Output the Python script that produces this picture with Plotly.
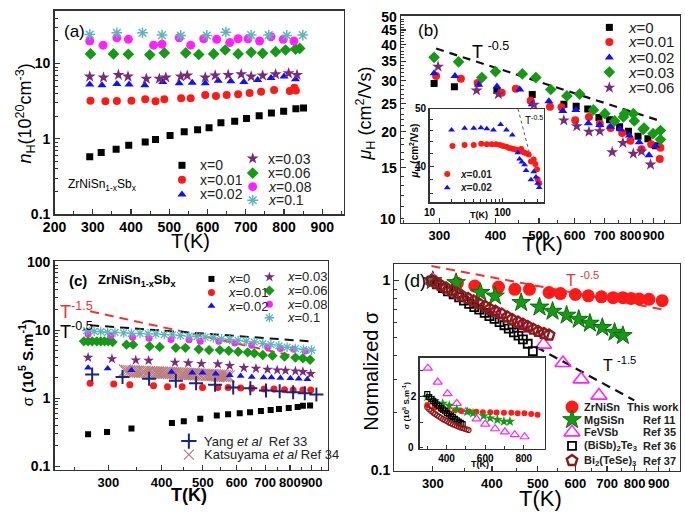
import math
import plotly.graph_objects as go

W, H = 685, 520
FONT = "Liberation Sans"

# ---------------- panel (a): carrier concentration (1e20 cm^-3) ----------------
a_T_x0 = [292, 322, 361, 394, 437, 464, 502, 539, 574, 604, 635, 671, 702, 735, 767, 799, 831, 851]
a_n_x0 = [0.58, 0.66, 0.73, 0.82, 0.91, 0.98, 1.11, 1.24, 1.32, 1.40, 1.64, 1.72, 1.86, 2.02, 2.20, 2.32, 2.51, 2.57]
a_T_x001 = [294, 333, 363, 401, 437, 464, 487, 531, 556, 594, 622, 650, 680, 710, 740, 774, 815, 827, 831]
a_n_x001 = [3.21, 3.15, 3.18, 3.21, 3.37, 3.15, 3.37, 3.47, 3.47, 3.83, 3.72, 3.83, 3.91, 4.07, 4.23, 4.45, 4.32, 4.77, 4.40]
a_T_x002 = [292, 324, 363, 395, 436, 483, 526, 560, 594, 628, 661, 695, 731, 766, 800, 830]
a_n_x002 = [5.26, 5.16, 5.37, 5.26, 5.16, 5.69, 5.47, 5.58, 5.47, 5.92, 5.81, 5.69, 6.04, 6.41, 6.73, 6.17]
a_T_x003 = [292, 328, 367, 392, 440, 474, 491, 530, 547, 594, 620, 654, 688, 714, 744, 778, 812, 834]
a_n_x003 = [6.73, 6.54, 7.07, 6.73, 6.29, 6.29, 6.54, 6.73, 6.94, 6.54, 6.94, 7.07, 7.22, 6.73, 6.94, 7.22, 7.43, 7.07]
a_T_x006 = [294, 354, 393, 449, 487, 543, 577, 616, 646, 680, 714, 744, 778, 804, 830, 841]
a_n_x006 = [13.45, 13.45, 13.3, 13.06, 13.86, 13.86, 13.2, 13.45, 15.14, 13.45, 14.1, 13.7, 14.4, 15.14, 15.6, 15.9]
a_T_x008 = [292, 327, 363, 393, 459, 481, 526, 556, 590, 624, 658, 680, 706, 736, 766, 798, 826]
a_n_x008 = [19.97, 17.57, 22.04, 20.98, 17.57, 18.1, 22.04, 17.57, 21.4, 20.98, 19.0, 21.4, 21.4, 19.97, 22.7, 20.98, 19.97]
a_T_x01 = [292, 363, 430, 481, 530, 598, 648, 714, 760, 807, 849]
a_n_x01 = [24.3, 25.6, 25.6, 23.9, 23.6, 23.6, 26.1, 23.9, 23.9, 23.6, 23.9]

# ---------------- panel (b): Hall mobility (cm^2/Vs) ----------------
b_T_x0 = [292, 324, 403, 483, 568, 605, 642, 680, 718, 756, 791, 831, 874, 909]
b_mu_x0 = [29.4, 28.6, 27.8, 26.9, 24.9, 24.5, 24.0, 22.4, 22.0, 20.8, 20.1, 19.3, 18.9, 17.9]
b_T_x001 = [295, 335, 365, 413, 444, 479, 529, 561, 602, 646, 683, 722, 766, 799, 846, 889, 929, 932]
b_mu_x001 = [31.2, 30.5, 29.5, 27.3, 28.2, 25.6, 24.4, 24.3, 21.9, 22.5, 21.3, 20.6, 19.8, 18.6, 17.4, 18.1, 16.1, 17.6]
b_T_x002 = [292, 325, 367, 403, 453, 483, 526, 565, 604, 644, 683, 721, 758, 795, 836, 879, 909]
b_mu_x002 = [31.9, 31.2, 29.1, 28.7, 28.0, 24.9, 25.5, 23.6, 23.8, 21.4, 21.1, 20.8, 20.4, 19.4, 18.4, 16.6, 17.9]
b_T_x003 = [292, 331, 373, 400, 459, 492, 531, 577, 616, 661, 701, 737, 771, 775, 811, 815, 853, 857, 897, 932, 932]
b_mu_x003 = [36.2, 34.9, 30.8, 32.3, 31.7, 30.8, 28.0, 26.6, 27.0, 23.8, 23.1, 21.8, 22.5, 23.1, 23.1, 21.8, 20.4, 20.6, 19.7, 20.2, 18.8]
b_T_x006 = [298, 363, 406, 487, 568, 607, 646, 683, 728, 769, 811, 846, 886]
b_mu_x006 = [33.6, 27.8, 27.0, 24.8, 21.9, 20.9, 20.0, 20.1, 17.0, 18.3, 16.8, 17.1, 15.4]
b_guide_T = [295, 940]
b_guide_mu = [38.8, 21.7]

# inset (b): low temperature mobility
bi_T_x001 = [20.6, 30.2, 40.3, 51.1, 60.9, 71.1, 81.3, 92, 102, 113, 123, 132, 142, 154, 167, 180, 194, 210, 228, 245, 267, 281, 296, 302, 318]
bi_mu_x001 = [43.3, 43.5, 43.5, 43.7, 43.6, 43.6, 43.6, 43.5, 43.3, 43.2, 43.0, 42.9, 42.8, 42.7, 42.6, 42.8, 42.3, 42.1, 41.9, 40.8, 41.1, 40.4, 39.6, 38.1, 37.5]
bi_T_x002 = [20.0, 30.2, 40.3, 50.6, 60.9, 74.9, 94.0, 113, 136, 162, 171, 184, 200, 210, 245, 267, 287, 302, 318]
bi_mu_x002 = [46.1, 46.4, 46.4, 46.5, 46.3, 46.1, 47.1, 46.1, 45.2, 42.2, 41.2, 40.7, 40.3, 39.4, 38.0, 39.2, 38.4, 37.5, 36.9]
bi_guide_T = [163, 236]
bi_guide_mu = [50.0, 41.9]

# ---------------- panel (c): conductivity (1e5 S/m) ----------------
c_T_x0 = [269, 298, 340, 423, 451, 493, 539, 573, 610, 645, 684, 721, 754, 795, 834, 858, 892]
c_s_x0 = [0.296, 0.32, 0.36, 0.434, 0.459, 0.50, 0.56, 0.585, 0.604, 0.624, 0.652, 0.674, 0.697, 0.72, 0.744, 0.777, 0.785]
c_T_x001 = [272, 309, 337, 383, 413, 447, 499, 542, 573, 613, 651, 696, 734, 777, 814, 858, 895]
c_s_x001 = [1.67, 1.62, 1.58, 1.53, 1.48, 1.48, 1.45, 1.45, 1.45, 1.42, 1.41, 1.37, 1.37, 1.34, 1.33, 1.33, 1.33]
c_T_x002 = [269, 299, 340, 422, 472, 499, 536, 578, 613, 651, 694, 724, 760, 802, 839, 879]
c_s_x002 = [2.81, 2.74, 2.60, 2.45, 2.38, 2.38, 2.30, 2.18, 2.13, 2.06, 2.02, 2.02, 2.0, 1.97, 1.95, 1.91]
c_T_x003 = [269, 306, 348, 373, 430, 462, 496, 542, 578, 624, 666, 709, 747, 781, 824, 858, 895]
c_s_x003 = [3.98, 3.81, 3.65, 3.60, 3.38, 3.31, 3.24, 3.20, 3.03, 2.81, 2.74, 2.65, 2.60, 2.57, 2.51, 2.46, 2.30]
c_T_x006 = [263, 269, 275, 282, 288, 294, 300, 307, 331, 343, 375, 396, 432, 455, 489, 517, 548, 575, 605, 637, 660, 691, 728, 777, 824, 858, 892]
c_s_x006 = [6.89, 6.89, 6.89, 6.89, 6.89, 6.89, 6.89, 6.74, 6.17, 6.17, 5.84, 5.71, 5.53, 5.53, 5.29, 5.13, 5.13, 5.01, 4.85, 4.75, 4.59, 4.35, 4.25, 4.11, 3.98, 3.90, 3.69]
c_T_x008 = [269, 304, 342, 374, 421, 464, 493, 545, 594, 651, 709, 760, 816, 869]
c_s_x008 = [8.87, 8.40, 7.94, 7.69, 7.36, 7.28, 6.89, 6.89, 6.52, 6.04, 5.71, 5.41, 5.29, 4.96]
c_T_x01 = [267, 278, 288, 299, 311, 326, 340, 356, 372, 388, 406, 424, 443, 464, 484, 506, 529, 553, 578, 605, 632, 660, 691, 722, 754, 788, 824, 861, 899]
c_s_x01 = [9.89, 9.68, 9.57, 9.36, 9.36, 9.16, 9.06, 9.06, 8.87, 8.87, 8.67, 8.58, 8.40, 8.21, 8.12, 7.94, 7.77, 7.51, 7.36, 7.11, 6.89, 6.74, 6.38, 6.17, 5.91, 5.65, 5.41, 5.23, 5.13]
c_T_yang = [275, 324, 374, 432, 482, 534, 589, 646, 703, 757, 814, 867, 923]
c_s_yang = [2.25, 2.06, 1.95, 1.81, 1.67, 1.58, 1.45, 1.41, 1.30, 1.27, 1.23, 1.19, 1.14]
c_T_kat = [328, 332, 336, 340, 344, 348, 352, 356, 361, 365, 370, 374, 379, 383, 388, 392, 397, 401, 406, 411, 416, 421, 426, 431, 436, 441, 446, 451, 456, 461, 466, 471, 477, 482, 488, 493, 499, 504, 510, 515, 521, 527, 533, 539, 545, 551, 557, 563, 569, 575]
c_s_kat = [2.57, 2.53, 2.52, 2.50, 2.49, 2.47, 2.47, 2.46, 2.45, 2.45, 2.44, 2.43, 2.42, 2.42, 2.41, 2.40, 2.39, 2.39, 2.38, 2.37, 2.36, 2.36, 2.35, 2.34, 2.33, 2.33, 2.32, 2.31, 2.30, 2.29, 2.28, 2.28, 2.27, 2.26, 2.25, 2.24, 2.23, 2.23, 2.22, 2.21, 2.20, 2.19, 2.18, 2.17, 2.16, 2.15, 2.14, 2.13, 2.12, 2.10]
c_g15_T = [272, 889]
c_g15_s = [19.1, 3.73]
c_g05_T = [272, 889]
c_g05_s = [11.9, 6.9]

# ---------------- panel (d): normalized conductivity ----------------
d_T_zr = [300, 338, 368, 413, 447, 480, 528, 558, 600, 639, 681, 721, 756, 787, 818, 858, 915]
d_n_zr = [1.0, 0.969, 0.935, 0.924, 0.899, 0.899, 0.865, 0.854, 0.844, 0.831, 0.821, 0.812, 0.812, 0.805, 0.799, 0.796, 0.783]
d_T_mg = [300, 336, 378, 406, 461, 504, 537, 575, 610, 644, 684, 726, 756]
d_n_mg = [1.0, 0.975, 0.865, 0.828, 0.765, 0.724, 0.688, 0.656, 0.624, 0.595, 0.565, 0.533, 0.512]
d_T_fe = [300, 406, 461, 514, 565, 617, 673]
d_n_fe = [1.0, 0.675, 0.558, 0.459, 0.367, 0.301, 0.247]
d_T_bst = [298, 306, 315, 323, 332, 341, 349, 358, 367, 376, 386, 395, 405, 415, 425, 434, 445, 455, 465, 476, 488]
d_n_bst = [1.0, 0.954, 0.913, 0.878, 0.847, 0.815, 0.783, 0.753, 0.724, 0.702, 0.675, 0.649, 0.628, 0.604, 0.581, 0.558, 0.533, 0.512, 0.489, 0.464, 0.424]
d_T_bts = [298, 305, 312, 320, 329, 338, 346, 356, 366, 376, 387, 396, 407, 419, 431, 441, 454, 465, 476, 489, 501, 515, 528]
d_n_bts = [1.0, 0.969, 0.943, 0.913, 0.882, 0.854, 0.828, 0.805, 0.78, 0.753, 0.730, 0.707, 0.688, 0.667, 0.643, 0.624, 0.604, 0.588, 0.572, 0.554, 0.539, 0.526, 0.516]
d_g05_T = [298, 922]
d_g05_n = [1.194, 0.702]
d_g15_T = [496, 799]
d_g15_n = [0.446, 0.233]

# inset (d): conductivity (1e5 S/m)
di_T_zr = [300, 338, 370, 405, 443, 476, 517, 554, 588, 626, 659, 697, 735, 768, 803, 838, 871]
di_s_zr = [1.66, 1.56, 1.50, 1.47, 1.45, 1.43, 1.41, 1.40, 1.38, 1.38, 1.37, 1.36, 1.36, 1.34, 1.34, 1.31, 1.28]
di_T_mg = [300, 338, 380, 414, 453, 507, 537, 592, 626, 663, 697, 728]
di_s_mg = [1.98, 1.82, 1.72, 1.64, 1.50, 1.40, 1.34, 1.24, 1.15, 1.09, 1.02, 1.02]
di_T_fe = [303, 354, 405, 453, 500, 555, 600, 651, 702, 753, 804]
di_s_fe = [3.09, 2.55, 2.10, 1.72, 1.40, 1.12, 0.92, 0.74, 0.62, 0.51, 0.43]
di_T_bst = [300, 310, 321, 331, 341, 351, 361, 371, 382, 392, 402, 412, 422, 432, 443, 453, 463, 473, 483]
di_s_bst = [2.08, 1.97, 1.89, 1.81, 1.75, 1.68, 1.62, 1.54, 1.48, 1.42, 1.35, 1.30, 1.24, 1.19, 1.12, 1.07, 1.02, 0.97, 0.92]
di_T_bts = [300, 310, 321, 331, 341, 351, 361, 371, 382, 392, 402, 412, 422, 432, 443, 453, 463, 473, 483, 493, 504, 514]
di_s_bts = [1.57, 1.49, 1.43, 1.36, 1.31, 1.26, 1.21, 1.16, 1.11, 1.07, 1.04, 0.98, 0.95, 0.91, 0.88, 0.85, 0.82, 0.79, 0.77, 0.74, 0.72, 0.69]

T_ticks = [300, 400, 500, 600, 700, 800, 900]

# ---------------- colours ----------------
BLACK = "#000000"
RED = "#ff1a1a"
BLUE = "#1010ff"
PURPLE = "#7a2a7a"
GREEN = "#169a16"
MAGENTA = "#ff22ff"
CYAN = "#5fb4bc"
NAVY = "#1a2580"
ROSY = "#b87a7a"
BROWN = "#8b1a1a"
AXC = "#333333"

fig = go.Figure()


def px2x(p):
    return p / W


def py2y(p):
    return 1 - p / H


def dom_x(l, r):
    return [px2x(l), px2x(r)]


def dom_y(top, bottom):
    return [py2y(bottom), py2y(top)]


def add(ax, xs, ys, symbol, color, size, lw=0.0, lc=None, mode="markers", dash=None, lwidth=2):
    n = "" if ax == 1 else str(ax)
    if mode == "lines":
        fig.add_trace(go.Scatter(x=xs, y=ys, mode="lines", xaxis="x" + n, yaxis="y" + n,
                                 line=dict(color=color, width=lwidth, dash=dash), showlegend=False,
                                 hoverinfo="skip"))
    else:
        fig.add_trace(go.Scatter(x=xs, y=ys, mode="markers", xaxis="x" + n, yaxis="y" + n,
                                 marker=dict(symbol=symbol, color=color, size=size,
                                             line=dict(width=lw, color=lc if lc else color)),
                                 showlegend=False, hoverinfo="skip"))


# panel (a)
add(1, a_T_x0, a_n_x0, "square", BLACK, 7)
add(1, a_T_x001, a_n_x001, "circle", RED, 8)
add(1, a_T_x002, a_n_x002, "triangle-up", BLUE, 8)
add(1, a_T_x003, a_n_x003, "star", PURPLE, 9)
add(1, a_T_x006, a_n_x006, "diamond", GREEN, 9)
add(1, a_T_x008, a_n_x008, "circle", MAGENTA, 9)
add(1, a_T_x01, a_n_x01, "asterisk-open", CYAN, 9, lw=1.5)

# panel (b)
add(2, b_guide_T, b_guide_mu, None, "#111111", 0, mode="lines", dash="8px,6px", lwidth=2.2)
add(2, b_T_x0, b_mu_x0, "square", BLACK, 7)
add(2, b_T_x001, b_mu_x001, "circle", RED, 8)
add(2, b_T_x002, b_mu_x002, "triangle-up", BLUE, 8)
add(2, b_T_x003, b_mu_x003, "diamond", GREEN, 9)
add(2, b_T_x006, b_mu_x006, "star", PURPLE, 9)

# inset (b)
add(5, bi_guide_T, bi_guide_mu, None, "#555555", 0, mode="lines", dash="3px,3px", lwidth=1)
add(5, bi_T_x001, bi_mu_x001, "circle", RED, 6)
add(5, bi_T_x002, bi_mu_x002, "triangle-up", BLUE, 6)

# panel (c)
add(3, c_g15_T, c_g15_s, None, "#ee3333", 0, mode="lines", dash="9px,6px", lwidth=2)
add(3, c_g05_T, c_g05_s, None, "#111111", 0, mode="lines", dash="9px,6px", lwidth=2)
add(3, c_T_kat, c_s_kat, "x-thin-open", ROSY, 12, lw=1.1)
add(3, c_T_x0, c_s_x0, "square", BLACK, 6)
add(3, c_T_x001, c_s_x001, "circle", RED, 7)
add(3, c_T_x002, c_s_x002, "triangle-up", BLUE, 7)
add(3, c_T_x003, c_s_x003, "star", PURPLE, 8)
add(3, c_T_x006, c_s_x006, "diamond", GREEN, 8)
add(3, c_T_x008, c_s_x008, "circle", MAGENTA, 7)
add(3, c_T_x01, c_s_x01, "asterisk-open", CYAN, 8, lw=1.3)
add(3, c_T_yang, c_s_yang, "cross-thin-open", NAVY, 10, lw=2)

# panel (d)
add(4, d_g05_T, d_g05_n, None, "#ee3333", 0, mode="lines", dash="9px,6px", lwidth=2)
add(4, d_g15_T, d_g15_n, None, "#111111", 0, mode="lines", dash="9px,6px", lwidth=2.2)
add(4, d_T_zr, d_n_zr, "circle", RED, 13)
add(4, d_T_mg, d_n_mg, "star", GREEN, 14, lw=1, lc="#0d6a0d")
add(4, d_T_fe, d_n_fe, "triangle-up-open", MAGENTA, 14, lw=1.6)
add(4, d_T_bst, d_n_bst, "square-open", BLACK, 8, lw=1.8)
add(4, d_T_bts, d_n_bts, "pentagon-open", BROWN, 11, lw=2.4)

# inset (d)
add(6, di_T_fe, di_s_fe, "triangle-up-open", MAGENTA, 8, lw=1.2)
add(6, di_T_zr, di_s_zr, "circle", RED, 6)
add(6, di_T_mg, di_s_mg, "star", GREEN, 8)
add(6, di_T_bst, di_s_bst, "square-open", BLACK, 5, lw=1.2)
add(6, di_T_bts, di_s_bts, "circle-open", BROWN, 5, lw=1.2)

# ---------------- legends (drawn on a full-figure overlay axis) ----------------
ann_list = []


def legend_item(mx, my, symbol, color, size, text, tx, tsize, lw=0.0, bold=False, tcolor="#222222", lc=None):
    fig.add_trace(go.Scatter(x=[mx], y=[my], mode="markers", xaxis="x7", yaxis="y7",
                             marker=dict(symbol=symbol, color=color, size=size,
                                         line=dict(width=lw, color=lc if lc else color)),
                             showlegend=False, hoverinfo="skip", cliponaxis=False))
    ann_list.append(dict(text=text, x=px2x(tx), y=py2y(my), xanchor="left", yanchor="middle",
                         font=dict(family=FONT, size=tsize, color=tcolor,
                                   weight="bold" if bold else "normal")))


# (a)
legend_item(173, 163, "square", BLACK, 7, "x=0", 189, 14)
legend_item(173, 178, "circle", RED, 8, "x=0.01", 189, 14)
legend_item(173, 193, "triangle-up", BLUE, 8, "x=0.02", 189, 14)
legend_item(245, 156, "star", PURPLE, 9, "x=0.03", 259, 14)
legend_item(245, 171, "diamond", GREEN, 9, "x=0.06", 259, 14)
legend_item(245, 185, "circle", MAGENTA, 9, "<i>x</i>=0.08", 259, 14)
legend_item(245, 199, "asterisk-open", CYAN, 9, "<i>x</i>=0.1", 259, 14, lw=1.5)
# (b)
legend_item(608, 21, "square", BLACK, 7, "<i>x</i>=0", 625, 15)
legend_item(608, 36, "circle", RED, 8, "<i>x</i>=0.01", 625, 15)
legend_item(608, 52, "triangle-up", BLUE, 8, "<i>x</i>=0.02", 625, 15)
legend_item(608, 67, "diamond", GREEN, 9, "<i>x</i>=0.03", 625, 15)
legend_item(608, 83, "star", PURPLE, 9, "<i>x</i>=0.06", 625, 15)
# inset (b)
legend_item(443, 172, "circle", RED, 6, "<i>x</i>=0.01", 454, 10, bold=True)
legend_item(443, 186, "triangle-up", BLUE, 6, "<i>x</i>=0.02", 454, 10, bold=True)
# (c)
legend_item(203, 280, "square", BLACK, 6, "<i>x</i>=0", 218, 13)
legend_item(203, 294, "circle", RED, 7, "<i>x</i>=0.01", 218, 13)
legend_item(203, 308, "triangle-up", BLUE, 7, "<i>x</i>=0.02", 218, 13)
legend_item(262, 278, "star", PURPLE, 8, "<i>x</i>=0.03", 278, 13)
legend_item(262, 292, "diamond", GREEN, 8, "<i>x</i>=0.06", 278, 13)
legend_item(262, 306, "circle", MAGENTA, 7, "<i>x</i>=0.08", 278, 13)
legend_item(262, 320, "asterisk-open", CYAN, 8, "<i>x</i>=0.1", 278, 13, lw=1.3)
legend_item(180, 447, "cross-thin-open", NAVY, 11, "Yang <i>et al</i>  Ref 33", 193, 13, lw=2)
legend_item(180, 461, "x-thin-open", ROSY, 10, "Katsuyama <i>et al</i> Ref 34", 193, 13, lw=1.2)
# (d)
legend_item(570, 412, "circle", RED, 13, "ZrNiSn", 580, 11, bold=True)
legend_item(570, 425, "star", GREEN, 14, "MgSiSn", 580, 11, bold=True, lw=1, lc="#0d6a0d")
legend_item(570, 438, "triangle-up-open", MAGENTA, 14, "FeVSb", 580, 11, bold=True, lw=1.6)
legend_item(570, 452, "square-open", BLACK, 8, "(BiSb)<sub>2</sub>Te<sub>3</sub>", 580, 11, bold=True, lw=1.8)
legend_item(570, 467, "pentagon-open", BROWN, 11, "Bi<sub>2</sub>(TeSe)<sub>3</sub>", 580, 11, bold=True, lw=2.4)
for txt, yy, xx in [("This work", 412, 624), ("Ref 11", 425, 640), ("Ref 35", 438, 640),
                    ("Ref 36", 452, 640), ("Ref 37", 467, 640)]:
    ann_list.append(dict(text=txt, x=px2x(xx), y=py2y(yy), xanchor="left", yanchor="middle",
                         font=dict(family=FONT, size=11, color="#222222", weight="bold")))


def text(t, x, y, size, color="black", xanchor="left", angle=0, bold=False):
    ann_list.append(dict(text=t, x=px2x(x), y=py2y(y), xanchor=xanchor, yanchor="middle",
                         textangle=angle,
                         font=dict(family=FONT, size=size, color=color,
                                   weight="bold" if bold else "normal")))


# panel labels and titles
text("(a)", 51, 25, 17)
text("ZrNiSn<sub>1-x</sub>Sb<sub>x</sub>", 55, 183, 12)
text("<i>n</i><sub>H</sub>(10<sup>20</sup>cm<sup>-3</sup>)", 14, 110, 18, xanchor="center", angle=-90)
text("T(K)", 182, 241, 20, xanchor="center")

text("(b)", 411, 24, 17)
text("T <sup>-0.5</sup>", 466, 45, 18)
text("<i>μ</i><sub>H</sub> (cm<sup>2</sup>/Vs)", 360, 110, 18, xanchor="center", angle=-90)
text("T(K)", 540, 244, 21, xanchor="center")
text("T<sup>-0.5</sup>", 520, 116, 10)
text("<i>μ</i><sub>H</sub> (cm<sup>2</sup>/Vs)", 410, 148, 10, xanchor="center", angle=-90, bold=True)
text("T(K)", 475, 214, 9, xanchor="center", bold=True)
# lowest tick labels, which plotly drops at these axis ends
text("10", 393, 218, 14, xanchor="right", bold=True)
text("0", 411, 454, 10, xanchor="right", bold=True)

text("(c)", 56, 282, 15, bold=True)
text("ZrNiSn<sub>1-x</sub>Sb<sub>x</sub>", 86, 282, 13, bold=True)
text("T<sup>-1.5</sup>", 47, 313, 18, color="#ee3333")
text("T<sup>-0.5</sup>", 47, 333, 18)
text("σ <b>(10<sup>5</sup> S.m<sup>-1</sup>)</b>", 14, 366, 15, xanchor="center", angle=-90)
text("T(K)", 180, 502, 18, xanchor="center", bold=True)

text("(d)", 397, 282, 18)
text("T <sup>-0.5</sup>", 562, 280, 16, color="#ee3333")
text("T <sup>-1.5</sup>", 600, 368, 16)
text("Normalized σ", 366, 375, 20, xanchor="center", angle=-90)
text("T(K)", 538, 506, 22, xanchor="center")
text("σ (10<sup>5</sup> S.m<sup>-1</sup>)", 401, 410, 8, xanchor="center", angle=-90, bold=True)
text("T(K)", 476, 471, 9, xanchor="center", bold=True)

for a in ann_list:
    a.update(xref="paper", yref="paper", showarrow=False)
    fig.add_annotation(**a)

# ---------------- axes ----------------
TICKFONT = dict(family=FONT, size=14, color="black", weight="bold")
TICKFONT13 = dict(family=FONT, size=13, color="black", weight="bold")
SMALLFONT = dict(family=FONT, size=10, color="black", weight="bold")


def axis(domain, anchor, rng, typ="linear", tickvals=None, ticktext=None, minor_vals=None,
         font=TICKFONT, ticklen=5):
    d = dict(domain=domain, anchor=anchor, range=rng, type=typ, showline=True, linecolor=AXC,
             linewidth=1.4, mirror=True, ticks="inside", ticklen=ticklen, tickwidth=1.2, tickcolor=AXC,
             showgrid=False, zeroline=False, tickfont=font, fixedrange=True, tickangle=0,
             ticklabeloverflow="allow")
    if tickvals is not None:
        d.update(tickmode="array", tickvals=tickvals)
        if ticktext is not None:
            d.update(ticktext=ticktext)
    if minor_vals is not None:
        d.update(minor=dict(tickmode="array", tickvals=minor_vals, ticks="inside", ticklen=3,
                            tickcolor=AXC, tickwidth=1, showgrid=False))
    return d


L = math.log10
log_minor_decades = [m * 10 ** e for e in (-2, -1, 0, 1, 2) for m in range(2, 10)]
T_minor = [250, 350, 450, 550, 650, 750, 850, 950]
T_text = [str(t) for t in T_ticks]

layout_axes = dict(
    xaxis=axis(dom_x(43.3, 338), "y", [200, 957], tickvals=[200, 300, 400, 500, 600, 700, 800, 900],
               minor_vals=[250, 350, 450, 550, 650, 750, 850, 950]),
    yaxis=axis(dom_y(4, 213.3), "x", [-1, 1.70], "log", tickvals=[0.1, 1, 10],
               ticktext=["0.1", "1", "10"], minor_vals=log_minor_decades),
    xaxis2=axis(dom_x(396, 680), "y2", [L(300) - 39 / 457, L(300) + 245 / 457], "log",
                tickvals=T_ticks, ticktext=T_text, minor_vals=T_minor, font=TICKFONT13),
    yaxis2=axis(dom_y(9, 222), "x2", [L(9.7), L(50.4)], "log",
                tickvals=[15, 20, 25, 30, 35, 40, 45, 50],
                ticktext=["15", "20", "25", "30", "35", "40", "45", "50"],
                minor_vals=[10] + [v for v in range(11, 50) if v % 5 != 0]),
    xaxis3=axis(dom_x(43.3, 321.7), "y3", [L(300) - 54.7 / 434, L(300) + 223.7 / 434], "log",
                tickvals=T_ticks, ticktext=T_text, minor_vals=T_minor, font=TICKFONT13),
    yaxis3=axis(dom_y(262, 476.7), "x3", [-1.053, 2.014], "log", tickvals=[0.1, 1, 10, 100],
                ticktext=["0.1", "1", "10", "100"], minor_vals=log_minor_decades),
    xaxis4=axis(dom_x(389.3, 680), "y4", [L(300) - 39 / 482, L(300) + 251.7 / 482], "log",
                tickvals=T_ticks, ticktext=T_text, minor_vals=T_minor, font=TICKFONT13),
    yaxis4=axis(dom_y(265, 477.7), "x4", [-1.005, 0.0856], "log", tickvals=[0.1, 1],
                ticktext=["0.1", "1"], minor_vals=log_minor_decades),
    xaxis5=axis(dom_x(425, 541), "y5", [1, 2.561], "log", tickvals=[10, 100], ticktext=["10", "100"],
                minor_vals=[m * 10 ** e for e in (1, 2) for m in range(2, 10)], font=SMALLFONT, ticklen=4),
    yaxis5=axis(dom_y(105, 201), "x5", [1.5421, 1.699], "log", tickvals=[40, 50], ticktext=["40", "50"],
                minor_vals=[36, 38, 42, 44, 46, 48], font=SMALLFONT, ticklen=4),
    xaxis6=axis(dom_x(415, 542), "y6", [261, 907], tickvals=[400, 600, 800],
                minor_vals=[300, 500, 700], font=SMALLFONT, ticklen=4),
    yaxis6=axis(dom_y(361, 455), "x6", [-0.04, 3.5], tickvals=[2], minor_vals=[0, 1, 3], font=SMALLFONT,
                ticklen=4),
    xaxis7=dict(domain=[0, 1], anchor="y7", range=[0, W], visible=False, fixedrange=True),
    yaxis7=dict(domain=[0, 1], anchor="x7", range=[H, 0], visible=False, fixedrange=True),
)

fig.update_layout(
    width=W, height=H, autosize=False,
    margin=dict(l=0, r=0, t=0, b=0),
    paper_bgcolor="white", plot_bgcolor="rgba(0,0,0,0)",
    font=dict(family=FONT, color="black"),
    showlegend=False,
    **layout_axes,
)

fig.write_html("out.html", config={"displayModeBar": False, "staticPlot": True},
               post_script="document.body.style.margin='0';document.body.style.overflow='hidden';")
